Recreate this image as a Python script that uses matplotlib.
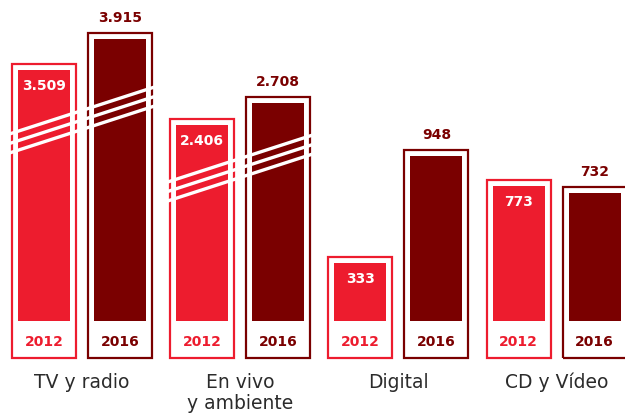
import matplotlib
matplotlib.use("Agg")
import matplotlib.pyplot as plt
from matplotlib.patches import Rectangle

# ---- data ----
categories = ["TV y radio", "En vivo\ny ambiente", "Digital", "CD y Vídeo"]
years = ["2012", "2016"]
values_2012 = [3509, 2406, 333, 773]
values_2016 = [3915, 2708, 948, 732]
broken = [True, True, False, False]

# ---- styling / layout ----
RED = "#ED1C2E"
DARK = "#7A0000"
TEXT = "#2B2B2B"
K = 0.174            # pixels per value unit (linear part)
COMP = 0.431         # compression factor for broken bars
BREAK_OFF = [-71, 84.5, 0, 0]   # offsets (value units) of broken groups
BASE_PX = 95.5       # inner bar bottom from figure bottom (px)


def px(p):
    return p / K


def disp(v, g):
    if broken[g]:
        return COMP * v + BREAK_OFF[g]
    return v


def fmt(v):
    return f"{v:,}".replace(",", ".")


fig = plt.figure(figsize=(6.25, 4.16), dpi=100)
ax = fig.add_axes([0, 0, 1, 1])
ax.axis("off")
ax.set_xlim(0, 625)
ax.set_ylim(-BASE_PX / K, (416 - BASE_PX) / K)

X0, GROUP, BAR = 44, 158.2, 76
series = [values_2012, values_2016]
colors = [RED, DARK]
FONT = "DejaVu Sans"

for g, cat in enumerate(categories):
    for j in range(2):
        x = X0 + g * GROUP + j * BAR
        v = series[j][g]
        h = disp(v, g)
        ax.bar(x, h, width=52, bottom=0, color=colors[j], zorder=2)
        ax.add_patch(Rectangle((x - 32, -px(37.5)), 64, h + px(37.5) + px(6),
                               fill=False, edgecolor=colors[j], lw=1.6, zorder=2))
        ax.text(x, -px(21.5), years[j], ha="center", va="center",
                color=colors[j], fontsize=10, fontweight="bold", family=FONT, zorder=4)
        if j == 0:
            ax.text(x, h - px(16), fmt(v), ha="center", va="center", color="white",
                    fontsize=10, fontweight="bold", family=FONT, zorder=4)
        else:
            ax.text(x, h + px(21), fmt(v), ha="center", va="center", color=DARK,
                    fontsize=10, fontweight="bold", family=FONT, zorder=4)
    gx = X0 + g * GROUP + BAR / 2
    ax.text(gx, -px(52.5), cat, ha="center", va="top", color=TEXT,
            fontsize=13.5, family=FONT, linespacing=1.15)

# break marks
BREAK_CENTER_PX = [200.5, 152.5, None, None]
slope = 0.324
for g in range(4):
    if not broken[g]:
        continue
    gx = X0 + g * GROUP + BAR / 2
    xl, xr = gx - 76, gx + 76
    for off in (-9.5, 0, 9.5):
        yc = BREAK_CENTER_PX[g] + off
        ax.plot([xl, xr], [px(yc - slope * 76), px(yc + slope * 76)],
                color="white", lw=2.4, solid_capstyle="butt", zorder=3)

fig.savefig("out.png", dpi=100)
